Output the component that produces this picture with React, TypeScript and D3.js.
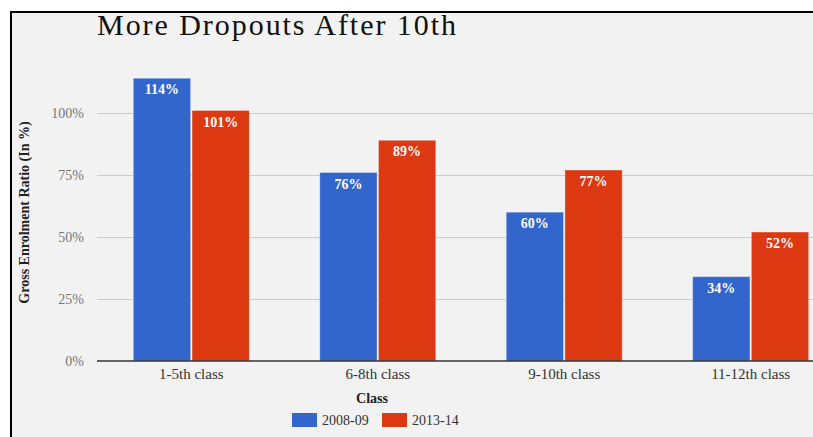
import * as d3 from 'd3'

const categories = ['1-5th class', '6-8th class', '9-10th class', '11-12th class']
const seriesNames = ['2008-09', '2013-14']
const values2008 = [114, 76, 60, 34]
const values2013 = [101, 89, 77, 52]
const yTicks = [0, 25, 50, 75, 100]
const colors = ['#3366cc', '#dc3912']

const width = 813
const height = 437
const marginLeft = 97
const baseY = 361
const topY = 113

const App = () => {
	const x0 = d3.scaleBand().domain(categories).range([marginLeft, 845]).paddingInner(0.378).paddingOuter(0.195)
	const x1 = d3.scaleBand().domain(seriesNames).range([0, x0.bandwidth()]).paddingInner(0.025)
	// 100% sits at y=113, 0% at y=361
	const y = d3.scaleLinear().domain([0, 100]).range([baseY, topY])

	const rows = categories.map((c, i) => ({ cat: c, vals: [values2008[i], values2013[i]] }))
	const serif = '"Liberation Serif", "DejaVu Serif", serif'

	return (
		<svg width={width} height={height} style={{ position: 'absolute', left: 0, top: 0, fontFamily: serif }}>
			<defs>
				<clipPath id="panel">
					<rect x={10} y={11} width={width - 10} height={height - 11} />
				</clipPath>
			</defs>
			<rect width={width} height={height} fill="#fff" />
			<rect x={10} y={11} width={width - 10} height={height - 11} fill="#f2f2f2" />
			<line x1={11} x2={11} y1={11} y2={height} stroke="#000" strokeWidth={2} />
			<line x1={10} x2={width} y1={12} y2={12} stroke="#000" strokeWidth={2} />

			<text x={marginLeft} y={35} fontSize={30} fill="#111" textLength={359} lengthAdjust="spacing">
				More Dropouts After 10th
			</text>

			<g clipPath="url(#panel)">
				{yTicks.map((t) => (
					<g key={t}>
						{t > 0 && <line x1={marginLeft} x2={width} y1={y(t) + 0.5} y2={y(t) + 0.5} stroke="#cccccc" />}
						<text x={84} y={y(t)} dy="0.35em" textAnchor="end" fontSize={14} fill="#777">
							{t}%
						</text>
					</g>
				))}

				{rows.map((r) => (
					<g key={r.cat} transform={`translate(${x0(r.cat)},0)`}>
						{r.vals.map((v, j) => (
							<g key={j}>
								<rect
									x={x1(seriesNames[j])}
									y={y(v)}
									width={x1.bandwidth()}
									height={baseY - y(v)}
									fill={colors[j]}
									stroke="#ffffff"
									strokeOpacity={0.3}
								/>
								<text
									x={(x1(seriesNames[j]) ?? 0) + x1.bandwidth() / 2}
									y={y(v) + 16}
									textAnchor="middle"
									fontSize={14}
									fontWeight="bold"
									fill="#fff"
								>
									{v}%
								</text>
							</g>
						))}
						<text x={x0.bandwidth() / 2} y={379} textAnchor="middle" fontSize={15} fill="#333">
							{r.cat}
						</text>
					</g>
				))}

				<line x1={marginLeft} x2={width} y1={baseY} y2={baseY} stroke="#333" strokeWidth={1.5} />
			</g>

			<text
				transform={`translate(29,${(118 + 307) / 2}) rotate(-90)`}
				textAnchor="middle"
				fontSize={14}
				fontWeight="bold"
				fill="#222"
			>
				Gross Enrolment Ratio (In %)
			</text>

			<text x={372} y={403} textAnchor="middle" fontSize={14} fontWeight="bold" fill="#222">
				Class
			</text>

			{seriesNames.map((s, i) => (
				<g key={s} transform={`translate(${292 + i * 90},413)`}>
					<rect width={25} height={14} fill={colors[i]} />
					<text x={30} y={12} fontSize={14} fill="#333">
						{s}
					</text>
				</g>
			))}
		</svg>
	)
}

export default App
